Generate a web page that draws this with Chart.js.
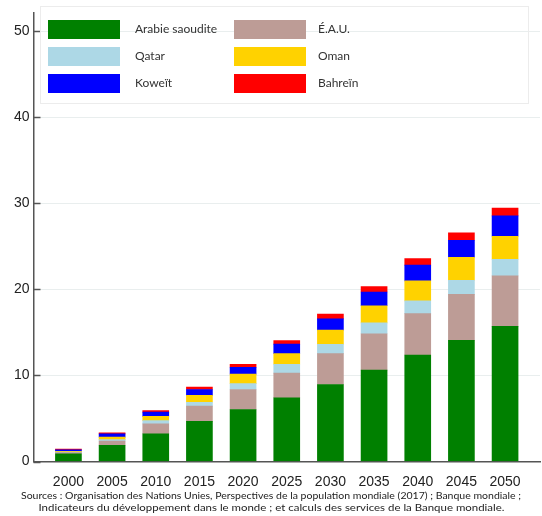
<!DOCTYPE html>
<html>
<head>
<meta charset="utf-8">
<script src="https://cdn.jsdelivr.net/npm/chart.js@4.4.1/dist/chart.umd.min.js"></script>
<style>
  body { margin: 0; background: #fff; }
  #wrap { position: relative; width: 542px; height: 516px; }
  #legendBox { position: absolute; left: 40px; top: 6px; width: 489px; height: 98px;
    border: 1px solid #ececec; box-sizing: border-box; }
  .item { position: absolute; font-family: Lato, "Open Sans", sans-serif; font-size: 12px; color: #333; }
  .item .sw { position: absolute; width: 72px; height: 19px; left: 0; top: 0; }
  .item .tx { position: absolute; top: 1px; white-space: nowrap; }
  #sources { position: absolute; top: 489px; left: 0; width: 542px; text-align: center;
    font-family: Lato, "Open Sans", sans-serif; font-size: 10px; line-height: 12px; color: #222; }
  #sources div { white-space: nowrap; display: inline-block; transform-origin: center; }
</style>
</head>
<body>
<div id="wrap">
  <canvas id="popChart"></canvas>
  <div id="legendBox"></div>
  <div id="sources">
    <div id="src1">Sources : Organisation des Nations Unies, Perspectives de la population mondiale (2017) ; Banque mondiale ;</div><br>
    <div id="src2">Indicateurs du développement dans le monde ; et calculs des services de la Banque mondiale.</div>
  </div>
</div>
<script>
var years = [2000, 2005, 2010, 2015, 2020, 2025, 2030, 2035, 2040, 2045, 2050];
var saudi = [0.90, 1.89, 3.23, 4.67, 6.04, 7.41, 8.95, 10.62, 12.38, 14.09, 15.70];
var uae = [0.13, 0.49, 1.14, 1.76, 2.33, 2.86, 3.58, 4.23, 4.80, 5.34, 5.87];
var qatar = [0.06, 0.16, 0.38, 0.46, 0.69, 1.03, 1.10, 1.26, 1.49, 1.64, 1.94];
var oman = [0.10, 0.30, 0.49, 0.80, 1.10, 1.23, 1.64, 1.99, 2.33, 2.67, 2.67];
var kuwait = [0.17, 0.38, 0.50, 0.68, 0.80, 1.11, 1.30, 1.60, 1.83, 1.98, 2.37];
var bahrain = [0.07, 0.12, 0.19, 0.27, 0.34, 0.41, 0.57, 0.64, 0.76, 0.85, 0.91];
var yTicks = [0, 10, 20, 30, 40, 50];

function pts(arr) {
    return arr.map(function(v, i) { return {x: years[i], y: v}; });
}

// ticks drawn inside the plot, on the right of the y axis
var innerTicks = {
    id: 'innerTicks',
    afterDraw: function(chart) {
        var ctx = chart.ctx, y = chart.scales.y, left = chart.chartArea.left;
        ctx.save();
        ctx.strokeStyle = '#555';
        ctx.lineWidth = 1.5;
        yTicks.forEach(function(t) {
            var py = Math.round(y.getPixelForValue(t)) + 0.5;
            ctx.beginPath();
            ctx.moveTo(left, py);
            ctx.lineTo(left + 7, py);
            ctx.stroke();
        });
        ctx.restore();
    }
};

var myChart = new Chart(document.getElementById('popChart'), {
    type: 'bar',
    data: {
        datasets: [
            {label: 'Arabie saoudite', data: pts(saudi), backgroundColor: '#008000'},
            {label: 'É.A.U.', data: pts(uae), backgroundColor: '#bd9c96'},
            {label: 'Qatar', data: pts(qatar), backgroundColor: '#add8e6'},
            {label: 'Oman', data: pts(oman), backgroundColor: '#ffd200'},
            {label: 'Koweït', data: pts(kuwait), backgroundColor: '#0000ff'},
            {label: 'Bahreïn', data: pts(bahrain), backgroundColor: '#ff0000'}
        ]
    },
    options: {
        responsive: true,
        maintainAspectRatio: false,
        animation: false,
        layout: {padding: {top: 5, right: 2, left: 0, bottom: 0}},
        datasets: {bar: {barThickness: 26}},
        plugins: {legend: {display: false}, tooltip: {enabled: false}},
        scales: {
            x: {
                type: 'linear',
                stacked: true,
                offset: false,
                min: 1996,
                max: 2054,
                afterBuildTicks: function(s) { s.ticks = years.map(function(v) { return {value: v}; }); },
                afterFit: function(s) { s.height = 54.5; },
                grid: {display: false, drawTicks: false, offset: false},
                border: {color: '#555', width: 1.5},
                ticks: {
                    autoSkip: false, maxRotation: 0, padding: 12, color: '#222',
                    font: {family: '"Liberation Sans", Arial, sans-serif', size: 14},
                    callback: function(v) { return String(v); }
                }
            },
            y: {
                stacked: true,
                min: 0,
                max: 52.2,
                afterBuildTicks: function(s) { s.ticks = yTicks.map(function(v) { return {value: v}; }); },
                afterFit: function(s) { s.width = 33.5; },
                grid: {color: '#e9eeee', lineWidth: 1, drawTicks: false},
                border: {color: '#555', width: 1.5},
                ticks: {
                    padding: 4, color: '#222',
                    font: {family: '"Liberation Sans", Arial, sans-serif', size: 14}
                }
            }
        }
    },
    plugins: [innerTicks]
});

// legend in two columns, built from the chart datasets
var box = document.getElementById('legendBox');
var wrap = document.getElementById('wrap');
myChart.data.datasets.forEach(function(ds, i) {
    var col = i % 2, row = Math.floor(i / 2);
    var el = document.createElement('div');
    el.className = 'item';
    el.style.left = (col === 0 ? 48 : 234) + 'px';
    el.style.top = (20 + row * 27) + 'px';
    el.innerHTML = '<div class="sw" style="background:' + ds.backgroundColor + '"></div>' +
        '<div class="tx" style="left:' + (col === 0 ? 87 : 84) + 'px">' + ds.label + '</div>';
    wrap.appendChild(el);
});

// squeeze the source lines to the width they take in the original
[['src1', 500], ['src2', 466]].forEach(function(p) {
    var el = document.getElementById(p[0]);
    el.style.transform = 'scaleX(' + (p[1] / el.offsetWidth) + ')';
});
</script>
</body>
</html>
